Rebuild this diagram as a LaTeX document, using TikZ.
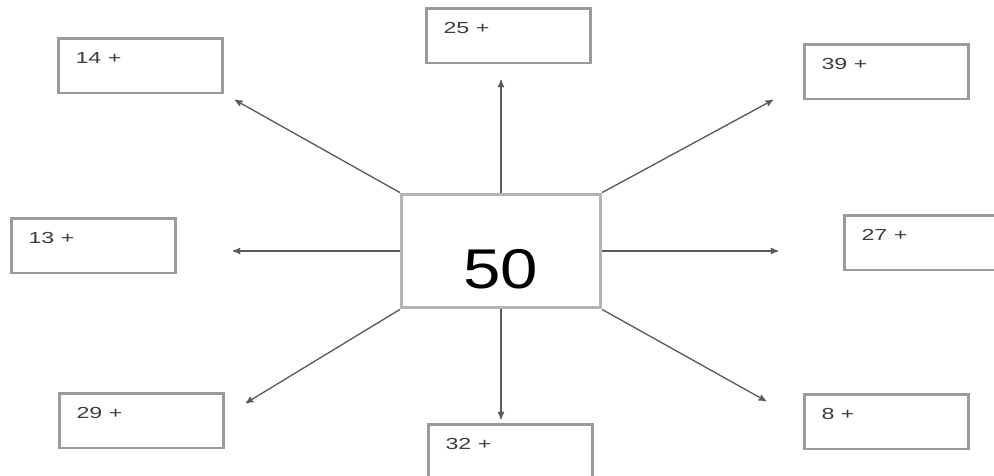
\documentclass[tikz,border=0pt]{standalone}
\usepackage{fontspec}
\setmainfont{Liberation Sans}
\usepackage{color}
\definecolor{boxgray}{RGB}{155, 155, 155}
\definecolor{hubgray}{RGB}{180, 180, 180}
\definecolor{linegray}{RGB}{90, 90, 90}
\definecolor{textgray}{RGB}{60, 60, 60}
\usetikzlibrary{arrows}
\tikzstyle{sumbox} = [rectangle,draw=boxgray,line width=1.9pt,anchor=north west,minimum width=123pt,minimum height=41pt,inner sep=0pt]
\tikzstyle{sumtext} = [anchor=west,text=textgray,font=\fontsize{12}{14}\selectfont,inner sep=0pt]
\tikzstyle{hub} = [rectangle,draw=hubgray,line width=2.6pt,minimum width=149pt,minimum height=85pt,inner sep=0pt]
\newcommand{\widen}[1]{\scalebox{1.45}[1]{#1}}

\begin{document}
\begin{tikzpicture}[x=0.75pt,y=-0.75pt,> = stealth',thick]
    \useasboundingbox (0,0) rectangle (994,475);

      % centre
      \node[hub] (hub) at (501,251) {};
      \node[font=\fontsize{42}{46}\selectfont] (fifty) at ([yshift=-14pt]hub.center) {\scalebox{1.2}[1]{50}};

      % answer boxes
      \foreach \nm/\x/\y in {14/57/37, 25/425/7, 39/803/43, 13/10/217,
                              27/843/214, 29/58/392, 32/427/423, 8/803/393} {
        \node[sumbox] (b\nm) at (\x,\y) {};
        \node[sumtext] (l\nm) at ([shift={(18,21)}]b\nm.north west) {\widen{\nm\ +}};
      }

      % arrow tips
      \coordinate (t14) at (235,100);
      \coordinate (t25) at (501,80);
      \coordinate (t39) at (773,100);
      \coordinate (t13) at (233,251);
      \coordinate (t27) at (778,251);
      \coordinate (t29) at (246,403);
      \coordinate (t32) at (501,419);
      \coordinate (t8)  at (766,401);

      \foreach \anc/\tip in {north west/t14, north/t25, north east/t39, west/t13,
                             east/t27, south west/t29, south/t32, south east/t8}
        \draw[->, linegray, line width=1pt] (hub.\anc) -- (\tip);
    \end{tikzpicture}
\end{document}
